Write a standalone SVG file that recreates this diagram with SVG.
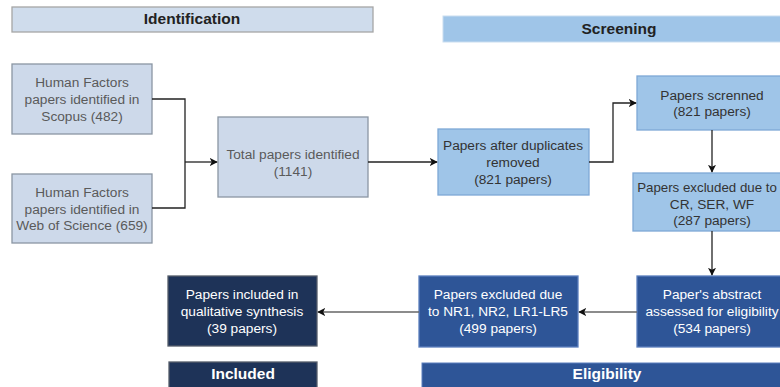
<svg xmlns="http://www.w3.org/2000/svg" width="780" height="387" viewBox="0 0 780 387">
<style>
text{font-family:"Liberation Sans",Arial,sans-serif;font-size:13.7px;text-anchor:middle}
.title{font-weight:bold;font-size:15.5px}
.id{fill:#cdd9ea;stroke:#8a96a3;stroke-width:1.3}
.idt{fill:#5a5a5a}
.sc{fill:#9fc5e8;stroke:#7ea8d6;stroke-width:1.3}
.sct{fill:#333}
.el{fill:#2e5597;stroke:#5b7fbd;stroke-width:1.3}
.inc{fill:#1e3358;stroke:#555d6a;stroke-width:1.3}
.wt{fill:#fff}
.c{fill:none;stroke:#222;stroke-width:1.3}
.cg{fill:none;stroke:#666;stroke-width:1.3}
</style>
<defs>
<marker id="ah" viewBox="0 0 10 10" refX="9" refY="5" markerWidth="8" markerHeight="8" markerUnits="userSpaceOnUse" orient="auto">
<path d="M0,0 L10,5 L0,10 L2.5,5 Z" fill="#111"/>
</marker>
</defs>
<rect width="780" height="387" fill="#fff"/>

<g id="banner-identification">
<rect x="12" y="7" width="361" height="25" fill="#cfdcec" stroke="#a6a6a6" stroke-width="1.3"/>
<text class="title" x="192" y="24" fill="#222">Identification</text>
</g>
<g id="banner-screening">
<rect x="443" y="16" width="354" height="26" fill="#9fc5e8" stroke="#c9ddf0" stroke-width="1"/>
<text class="title" x="619" y="34" fill="#222">Screening</text>
</g>
<g id="banner-included">
<rect x="169" y="362" width="148" height="26" class="inc"/>
<text class="title wt" x="243" y="379">Included</text>
</g>
<g id="banner-eligibility">
<rect x="422" y="363" width="370" height="26" fill="#2e5597" stroke="#5b7fbd" stroke-width="1"/>
<text class="title wt" x="607" y="379">Eligibility</text>
</g>

<g id="scopus">
<rect x="12" y="64" width="140" height="70" class="id"/>
<text class="idt" x="82" y="87">Human Factors</text>
<text class="idt" x="82" y="104">papers identified in</text>
<text class="idt" x="82" y="121">Scopus (482)</text>
</g>
<g id="wos">
<rect x="12" y="174" width="140" height="69" class="id"/>
<text class="idt" x="82" y="197">Human Factors</text>
<text class="idt" x="82" y="214">papers identified in</text>
<text class="idt" x="82" y="230">Web of Science (659)</text>
</g>
<g id="total">
<rect x="218" y="117" width="150" height="80" class="id"/>
<text class="idt" x="293" y="159">Total papers identified</text>
<text class="idt" x="293" y="176">(1141)</text>
</g>
<g id="dedup">
<rect x="438" y="129" width="151" height="66" class="sc"/>
<text class="sct" x="513" y="150">Papers after duplicates</text>
<text class="sct" x="513" y="167">removed</text>
<text class="sct" x="513" y="184">(821 papers)</text>
</g>
<g id="screened">
<rect x="637" y="76" width="160" height="54" class="sc"/>
<text class="sct" x="712" y="100">Papers screnned</text>
<text class="sct" x="712" y="116">(821 papers)</text>
</g>
<g id="excluded-cr">
<rect x="633" y="173" width="158" height="58" class="sc"/>
<text class="sct" x="707" y="192" style="font-size:13.3px">Papers excluded due to</text>
<text class="sct" x="712" y="209">CR, SER, WF</text>
<text class="sct" x="712" y="225">(287 papers)</text>
</g>
<g id="abstract">
<rect x="637" y="276" width="152" height="71" class="el"/>
<text class="wt" x="712" y="299">Paper's abstract</text>
<text class="wt" x="712" y="316">assessed for eligibility</text>
<text class="wt" x="712" y="333">(534 papers)</text>
</g>
<g id="excluded-nr">
<rect x="419" y="276" width="159" height="71" class="el"/>
<text class="wt" x="498" y="299">Papers excluded due</text>
<text class="wt" x="498" y="316">to NR1, NR2, LR1-LR5</text>
<text class="wt" x="498" y="333">(499 papers)</text>
</g>
<g id="included">
<rect x="168" y="276" width="149" height="70" class="inc"/>
<text class="wt" x="242" y="299">Papers included in</text>
<text class="wt" x="242" y="316">qualitative synthesis</text>
<text class="wt" x="242" y="333">(39 papers)</text>
</g>

<g id="connectors">
<polyline class="c" points="152,99 185,99 185,208 152,208"/>
<line class="c" x1="185" y1="162" x2="217" y2="162" marker-end="url(#ah)"/>
<line class="c" x1="368" y1="162" x2="437" y2="162" marker-end="url(#ah)"/>
<polyline class="c" points="589,162 613,162 613,103 636,103" marker-end="url(#ah)"/>
<line class="c" x1="712" y1="130" x2="712" y2="172" marker-end="url(#ah)"/>
<line class="c" x1="712" y1="231" x2="712" y2="275" marker-end="url(#ah)"/>
<line class="cg" x1="637" y1="312" x2="579" y2="312" marker-end="url(#ah)"/>
<line class="cg" x1="419" y1="312" x2="318" y2="312" marker-end="url(#ah)"/>
</g>
</svg>
